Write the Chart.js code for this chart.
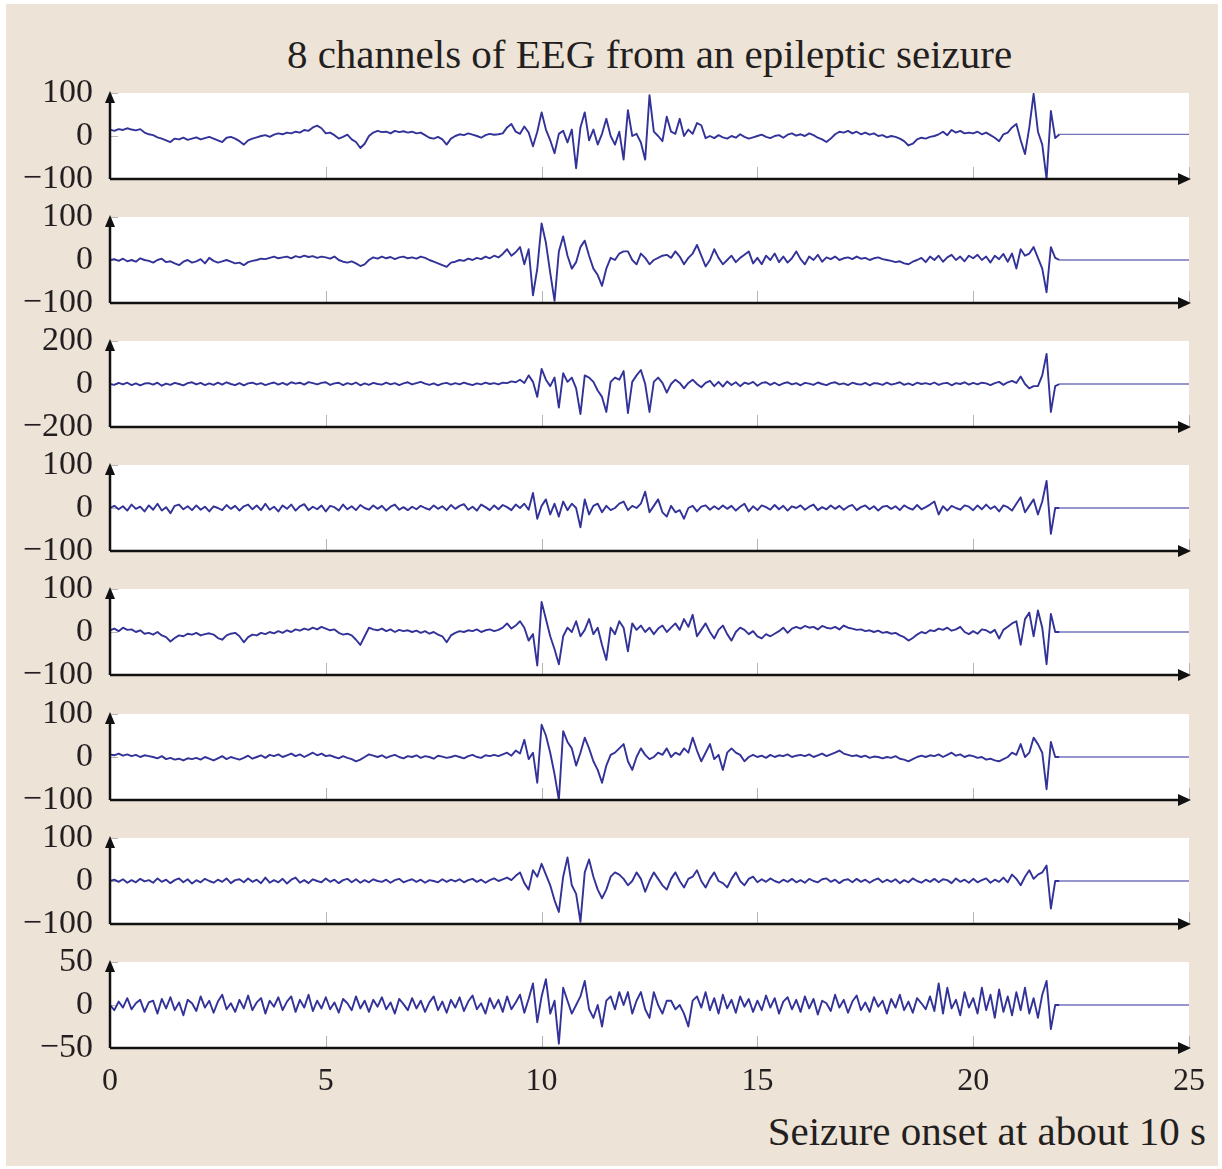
<!DOCTYPE html>
<html>
<head>
<meta charset="utf-8">
<script src="https://cdn.jsdelivr.net/npm/chart.js@4.4.0/dist/chart.umd.min.js"></script>
<style>
  html, body { margin: 0; padding: 0; background: #fff; }
  #page { position: relative; width: 1222px; height: 1169px; overflow: hidden; background: #fff; }
  #frame { position: absolute; left: 6px; top: 4px; width: 1212px; height: 1162px; background: #eee3d7; }
  .panel { position: absolute; left: 0; }
  #title { position: absolute; left: 110px; width: 1079px; top: 30px; text-align: center;
           font: 41px 'Liberation Serif', serif; color: #231f20; line-height: 48px; }
  #xlabel { position: absolute; right: 16px; top: 1107px; font: 41px 'Liberation Serif', serif;
            color: #231f20; line-height: 48px; }
</style>
</head>
<body>
<div id="page">
  <div id="frame"></div>
  <div id="title">8 channels of EEG from an epileptic seizure</div>
  <div id="xlabel">Seizure onset at about 10 s</div>
</div>
<script>
// samples every 0.1 s from 0 to 22 s, after that the record is flat up to 25 s
const tStep = 0.1;
const tEnd = 25;
const xTicks = [0, 5, 10, 15, 20, 25];
const yLimits = [100, 100, 200, 100, 100, 100, 100, 50];

const ch1 = [
  15, 12, 16, 14, 18, 15, 13, 16, 8, 4,
  2, -3, -6, -10, -14, -6, -8, -4, -9, -6,
  -3, -8, -5, -2, -6, -10, -14, -4, -2, -6,
  -12, -20, -10, -6, -3, 0, 2, -2, 3, 6,
  4, 8, 6, 10, 8, 14, 12, 20, 24, 18,
  6, 8, 2, -6, -2, 3, -8, -14, -28, -18,
  0, 8, 12, 9, 10, 6, 12, 9, 11, 8,
  10, 6, 8, 2, -4, -6, -2, -8, -20, -6,
  0, 4, 2, 6, 3, 0, -4, 2, 5, 3,
  4, 6, 20, 28, 10, 5, 22, 8, -24, 10,
  55, 15, -10, -40, 5, 12, -15, 15, -75, 20,
  55, -10, 15, -20, 5, 40, 0, -20, 10, -55,
  60, 0, 5, -15, -55, 95, 10, 0, -12, 45,
  10, 5, 40, 0, 15, 5, 30, 25, -5, 0,
  -5, 2, -3, -6, 0, -4, 4, -2, -6, -3,
  0, 3, -2, -5, 0, 2, -4, 3, 6, 1,
  4, 0, 6, 2, -4, -8, -14, -6, 4, 10,
  8, 12, 6, 10, 4, 8, 3, 6, 0, 2,
  -3, 0, -2, -6, -12, -22, -18, -8, -4, -6,
  -2, 0, 4, 10, 2, 14, 8, 12, 6, 8,
  6, 10, 4, 8, 2, -4, -12, 4, 8, 20,
  28, -10, -42, 20, 98, 10, -20, -100, 58, -5,
  4
];

const ch2 = [
  0, 2, -2, 3, -3, 0, -4, 4, 0, -2,
  -6, 0, 3, -5, -3, -8, -12, -4, 0, -6,
  -3, 2, -8, 5, -2, -6, -3, 0, -4, -8,
  -6, -12, -5, -2, 0, 3, 2, 5, 8, 4,
  6, 8, 4, 9, 6, 10, 7, 9, 5, 8,
  6, 3, 8, 0, -4, -6, -3, -8, -14, -10,
  0, 6, 3, 8, 4, 7, 2, 6, 8, 4,
  6, 3, 8, 5, 0, -4, -8, -12, -16, -6,
  -4, 0, -2, 3, 0, 5, 2, 8, 4, 10,
  6, 14, 25, 10, 18, 30, -10, 25, -82, -20,
  85, 40, -30, -95, 20, 55, 10, -20, -5, 30,
  45, 10, -20, -35, -60, -20, 5, 0, 15, 20,
  20, 0, -10, 15, 5, -10, 0, 5, 10, 12,
  5, 20, 8, -10, 5, 15, 35, 10, -15, 0,
  25, 5, -10, 0, 10, -5, 5, 12, 20, -8,
  5, -10, 10, 0, 15, -5, 8, -6, 4, 20,
  2, -10, 8, 0, 12, -4, 6, 2, 8, 0,
  4, 6, 2, 8, 3, 5, 0, 4, 6, 2,
  0, -2, -5, -3, -8, -10, -4, 0, 5, -5,
  8, 0, 10, -4, 6, 12, 0, 8, -3, 10,
  4, 12, 0, 8, -6, 10, 2, 14, -4, 15,
  -20, 25, 10, 15, 30, 5, -20, -75, 30, 5,
  0
];

const ch3 = [
  0, -4, 5, -2, 6, -5, 3, -6, 2, 4,
  -3, 6, -8, 2, -4, 5, 0, -6, 4, 8,
  -2, 5, -5, 3, -4, 6, -3, 8, 0, -5,
  4, -6, 3, 6, -2, 4, -5, 2, 7, -3,
  5, -4, 8, 2, 6, -3, 9, 4, -2, 5,
  8, -4, 3, 6, -5, 4, -2, 7, -6, 3,
  -4, 5, 0, -3, 6, -2, 4, -5, 3, 8,
  -2, 4, 10, 2, -4, 3, -6, 2, 5, -3,
  4, -2, 6, 0, -5, 3, -2, 6, 0, 4,
  -2, 6, 4, 12, 8, 20, 5, 40, 10, -60,
  70, 20, -10, 30, -110, 50, 10, 30, -20, -140,
  40, 30, 10, -30, -60, -130, 10, 30, 20, 60,
  -135, 10, 40, 65, 0, -130, 10, 30, 5, -40,
  0, 20, 5, -20, 5, 20, 0, -15, 5, 15,
  -10, 10, -12, 12, -5, 8, -10, 6, 0, 10,
  -8, 5, 8, -4, 6, -6, 3, 8, -2, 4,
  -6, 5, 2, -4, 7, 0, -5, 4, 8, -2,
  3, -5, 6, 0, -3, 5, -6, 4, 2, -4,
  6, -3, 2, 8, -4, 3, -5, 6, 0, 4,
  -2, 7, -4, 3, 5, -6, 4, 0, 8, -3,
  5, -2, 6, 3, -5, 4, 10, -4, 8, 15,
  5, 35, 0, -20, -10, -10, 40, 140, -130, -10,
  0
];

const ch4 = [
  0, 5, -3, 4, -6, 8, -2, 3, -8, 6,
  -4, 10, -6, 2, -12, 5, 8, -3, 4, -5,
  6, -4, 3, -8, 4, 0, -5, 7, -2, 5,
  -6, 4, 8, -3, 6, -5, 10, -4, 3, -8,
  6, -2, 8, -6, 4, 9, -5, 3, -3, 6,
  -8, 5, 2, -6, 8, -3, 4, -5, 7, 0,
  -4, 6, -2, 5, -6, 3, 8, -4, 2, -5,
  3, -3, 5, 0, -4, 6, -2, 4, -5, 7,
  -2, 5, 9, -4, 3, -6, 8, 2, -5, 6,
  -3, 7, 2, -5, 8, 0, 10, -4, 35, -25,
  5, 20, -15, 10, -20, 15, -5, 10, 0, -45,
  20, -15, 5, 10, -10, 5, -5, 0, 10, 15,
  -5, 5, 0, 10, 38, -10, 5, 20, -10, -20,
  5, -10, -5, -25, 0, 5, -8, 3, 6, -4,
  4, -3, 6, -2, 5, -6, 3, 10, -8, 4,
  -5, 6, 2, -4, 7, -3, 5, -6, 4, 0,
  6, -4, 3, 8, -5, 2, -3, 6, -2, 5,
  -4, 3, 7, -5, 2, 6, -3, 4, -6, 3,
  5, -2, 4, -5, 6, 0, -4, 7, -3, 2,
  8, 15, -15, 4, -6, 5, 0, -4, 6, 3,
  -5, 6, -3, 8, -2, 4, -8, 6, 2, -6,
  10, 25, -10, 5, 20, -15, 15, 63, -60, 0,
  0
];

const ch5 = [
  4, 8, 2, 10, 5, 6, 0, 4, -4, -2,
  -6, 0, -8, -12, -22, -14, -8, -10, -4, -6,
  -2, -8, -5, -3, -6, -14, -18, -8, -4, -2,
  -10, -24, -12, -6, -8, -2, -5, 0, -3, 2,
  -2, 4, 0, 6, 3, 8, 5, 10, 6, 12,
  8, 4, 6, -2, -6, -4, -8, -18, -30, -10,
  10, 6, 4, 8, 2, 6, 0, 5, 2, 4,
  0, 3, -2, 2, -4, 0, -6, -10, -24, -8,
  -2, 2, 0, 4, 2, 6, 0, 4, 6, 2,
  5, 10, 20, 8, 15, 25, 10, -20, -5, -78,
  70, 30, -10, -40, -75, -10, 10, 0, 25, -10,
  5, 30, -5, 10, -30, -65, 10, -5, 25, 10,
  -45, 20, 5, 15, 0, 10, -5, 8, 15, 0,
  10, 20, 5, 30, 12, 40, -10, 5, 20, 0,
  -15, 5, 15, -5, -20, 0, 10, 5, -5, 2,
  -10, -15, -5, -10, -4, 2, 10, -2, 8, 12,
  8, 14, 10, 12, 6, 14, 10, 8, 12, 6,
  15, 10, 8, 5, 6, 2, 4, 0, 3, -2,
  0, -4, -2, -8, -12, -20, -14, -6, 0, -3,
  4, 2, 8, 5, 10, 3, 6, 12, 0, -5,
  2, -4, 6, 4, -2, 5, -15, 5, 12, 20,
  25, -30, 30, 45, -10, 50, 10, -75, 42, 0,
  0
];

const ch6 = [
  6, 4, 8, 3, 6, 2, 5, 0, 4, 2,
  0, -3, 2, -5, -2, -6, -4, -8, -3, -5,
  -2, -6, 0, -4, -8, -3, 2, -5, 0, -3,
  -6, -2, 3, -4, 0, 4, -2, 5, 2, 6,
  0, 4, 8, 2, 6, 0, 5, 10, 4, 8,
  2, 4, 0, -3, 2, -2, -5, -10, -6, 0,
  6, 3, 0, 4, -2, 2, 5, 0, -3, 2,
  0, 4, -2, 2, 0, -4, 3, 1, -2, 0,
  3, 0, -3, 2, 5, 0, -2, 4, 2, 5,
  2, 6, 10, 3, 15, 8, 40, -5, 10, -60,
  75, 50, 10, -40, -100, 60, 35, 20, -20, 10,
  45, 20, -10, -30, -60, -20, 5, 10, 20, 30,
  -10, -30, 0, 20, 5, -5, 0, 10, 5, 20,
  0, 10, 5, 20, 10, 45, 15, -10, 10, 30,
  -5, 5, -30, 10, 20, 10, 5, -10, 0, 5,
  0, 3, -2, 5, 0, 4, 2, 6, 0, 3,
  5, 2, 6, 0, 4, 8, 2, 6, 10, 15,
  8, 5, 2, 4, 0, 3, -2, 1, 0, -3,
  0, -2, 2, -4, -6, -10, -5, 0, 3, 0,
  4, 2, 6, 0, 5, 10, 3, 6, 0, 4,
  2, -2, 0, -6, -4, -8, -10, -5, 0, 10,
  5, 30, 0, 10, 45, 30, 10, -75, 35, 0,
  0
];

const ch7 = [
  0, 3, -2, 4, -4, 2, -3, 5, -1, 2,
  -4, 6, -2, 3, -5, 2, 6, -3, 4, -6,
  2, -3, 5, 0, -4, 3, -2, 6, -5, 2,
  4, -3, 6, -2, 3, -5, 8, -4, 2, -3,
  5, -6, 3, 8, -4, 2, -5, 4, 0, -3,
  6, -2, 3, -5, 2, 5, -3, 4, -4, 2,
  -3, 4, 0, -2, 3, -4, 2, 5, -3, 1,
  4, -2, 3, -4, 2, 0, -3, 4, -2, 3,
  -1, 4, -3, 2, 5, -2, 3, -4, 2, 6,
  0, 4, 8, 2, 12, 20, -5, -20, 25, 10,
  40, 15, -10, -45, -72, 10, 55, -10, -30, -95,
  20, 50, 10, -20, -40, -20, 10, 20, 15, 5,
  -10, 0, 20, 5, -25, 0, 20, 5, -10, -20,
  5, 20, 0, -15, 5, 10, 25, 0, -15, 5,
  20, 0, -5, -15, 5, 20, 0, -10, 5, 10,
  -3, 4, -2, 6, 0, -4, 3, -2, 5, -3,
  2, -4, 5, 0, -3, 4, 6, -2, 3, -5,
  2, 4, -3, 5, -2, 3, -4, 2, 6, -3,
  3, -2, 4, -5, 2, -3, 6, 0, -4, 3,
  -2, 5, -3, 4, 2, -5, 6, -2, 3, -4,
  5, -3, 2, 6, -4, 3, -2, 8, -3, 15,
  5, -10, 10, 25, 5, 15, 20, 36, -64, 0,
  0
];

const ch8 = [
  0, -6, 4, -3, 8, -5, 2, 6, -8, 3,
  5, -10, 7, -4, 9, -6, 3, -12, 6, 2,
  -7, 10, -3, 5, -9, 4, 12, -5, 2, -8,
  6, -4, 11, -6, 3, 8, -10, 5, -2, 9,
  -6, 4, 10, -8, 6, -3, 12, -7, 5, -4,
  9, -5, 3, -9, 7, 2, -6, 10, -4, 5,
  -8, 6, -2, 9, -5, 3, -10, 7, 1, -6,
  8, -4, 5, -8, 3, 10, -6, 4, -9, 6,
  -3, 9, -7, 4, 11, -5, 2, -10, 8, -4,
  6, -8, 10, -5, 3, 12, -9, 7, 25, -20,
  10, 30, -10, 5, -45, 20, 5, -10, 0, 10,
  28, -5, -15, 0, -25, 5, 10, -5, 15, 0,
  15, -10, 5, 15, -5, -15, 15, 0, -10, 5,
  5, -5, 0, -10, -25, 5, 10, -3, 15, -6,
  8, -10, 12, -4, 6, -9, 10, -2, 7, -8,
  5, -6, 11, -3, 8, -10, 4, 9, -5, 6,
  -8, 10, -4, 7, -11, 5, 2, -7, 12, -3,
  6, -9, 4, 11, -6, 3, -8, 9, -2, 5,
  -10, 7, -3, 12, -6, 4, -9, 8, 2, -5,
  10, -7, 25, -10, 20, -4, 6, -12, 15, -3,
  8, -10, 20, -6, 12, -15, 18, -8, 10, -12,
  15, -6, 20, -10, 8, -15, 12, 28, -28, 0,
  0
];

const channels = [ch1, ch2, ch3, ch4, ch5, ch6, ch7, ch8];

// layout: the padding must exceed half a tick label plus tick padding,
// otherwise Chart.js shrinks the plot area
const firstTop = 93;
const panelPitch = 124.1;
const plotH = 86;
const padTop = 42;
const padBottom = 42;
const xAxisH = 62;
const traceColor = 'rgb(50, 50, 152)';
const flatColor = 'rgba(80, 80, 170, 0.8)';
const textColor = '#231f20';
const serif = "'Liberation Serif', 'Times New Roman', serif";

function toPoints(values) {
  const pts = values.map((v, i) => ({ x: Math.round(i * tStep * 10) / 10, y: v }));
  pts.push({ x: tEnd, y: values[values.length - 1] });
  return pts;
}

function fmt(v) {
  return v < 0 ? '\u2212' + Math.abs(v) : String(v);
}

const eegAxes = {
  id: 'eegAxes',
  beforeDatasetsDraw(chart) {
    const { ctx, chartArea: a, scales: { x, y } } = chart;
    const lim = chart.options.scales.y.max;
    ctx.save();
    ctx.fillStyle = '#ffffff';
    ctx.fillRect(a.left, a.top, a.right - a.left, a.bottom - a.top);
    ctx.strokeStyle = '#b8b4b0';
    ctx.lineWidth = 1;
    ctx.beginPath();
    xTicks.forEach(v => {
      const px = Math.round(x.getPixelForValue(v)) + 0.5;
      ctx.moveTo(px, a.bottom);
      ctx.lineTo(px, a.bottom - 12);
    });
    [-lim, 0, lim].forEach(v => {
      const py = Math.round(y.getPixelForValue(v)) + 0.5;
      ctx.moveTo(a.left, py);
      ctx.lineTo(a.left + 8, py);
    });
    ctx.stroke();
    ctx.restore();
  },
  afterDatasetsDraw(chart) {
    const { ctx, chartArea: a } = chart;
    ctx.save();
    ctx.strokeStyle = '#111';
    ctx.fillStyle = '#111';
    ctx.lineWidth = 2.5;
    ctx.beginPath();
    ctx.moveTo(a.left, a.bottom);
    ctx.lineTo(a.right - 8, a.bottom);
    ctx.moveTo(a.left, a.bottom);
    ctx.lineTo(a.left, a.top + 6);
    ctx.stroke();
    // arrow heads
    ctx.beginPath();
    ctx.moveTo(a.right + 2, a.bottom);
    ctx.lineTo(a.right - 11, a.bottom - 6);
    ctx.lineTo(a.right - 11, a.bottom + 6);
    ctx.closePath();
    ctx.fill();
    ctx.beginPath();
    ctx.moveTo(a.left, a.top - 2);
    ctx.lineTo(a.left - 5, a.top + 10);
    ctx.lineTo(a.left + 5, a.top + 10);
    ctx.closePath();
    ctx.fill();
    ctx.restore();
  }
};

const page = document.getElementById('page');

channels.forEach((values, i) => {
  const last = i === channels.length - 1;
  const lim = yLimits[i];
  const top = Math.round(firstTop + panelPitch * i);
  const h = padTop + plotH + (last ? xAxisH : padBottom);

  const div = document.createElement('div');
  div.className = 'panel';
  div.style.top = (top - padTop) + 'px';
  const canvas = document.createElement('canvas');
  canvas.width = 1222;
  canvas.height = h;
  div.appendChild(canvas);
  page.appendChild(div);

  new Chart(canvas, {
    type: 'line',
    data: {
      datasets: [{
        data: toPoints(values),
        borderColor: traceColor,
        borderWidth: 1.9,
        borderJoinStyle: 'round',
        pointRadius: 0,
        tension: 0,
        segment: {
          borderColor: c => (c.p0.parsed.x >= 22 ? flatColor : undefined),
          borderWidth: c => (c.p0.parsed.x >= 22 ? 1.3 : undefined)
        }
      }]
    },
    options: {
      responsive: false,
      animation: false,
      events: [],
      layout: {
        autoPadding: false,
        padding: { left: 0, right: 33, top: padTop, bottom: last ? 0 : padBottom }
      },
      plugins: { legend: { display: false }, tooltip: { enabled: false } },
      scales: {
        x: {
          type: 'linear',
          min: 0,
          max: tEnd,
          display: last,
          grid: { display: false, drawTicks: false },
          border: { display: false },
          ticks: {
            stepSize: 5,
            padding: 14,
            autoSkip: false,
            maxRotation: 0,
            color: textColor,
            font: { family: serif, size: 32 }
          },
          afterFit: s => { s.height = last ? xAxisH : 0; }
        },
        y: {
          type: 'linear',
          min: -lim,
          max: lim,
          grid: { display: false, drawTicks: false },
          border: { display: false },
          ticks: {
            stepSize: lim,
            padding: 17,
            autoSkip: false,
            color: textColor,
            font: { family: serif, size: 34 },
            callback: v => fmt(v)
          },
          afterFit: s => { s.width = 110; }
        }
      }
    },
    plugins: [eegAxes]
  });
});
</script>
</body>
</html>
